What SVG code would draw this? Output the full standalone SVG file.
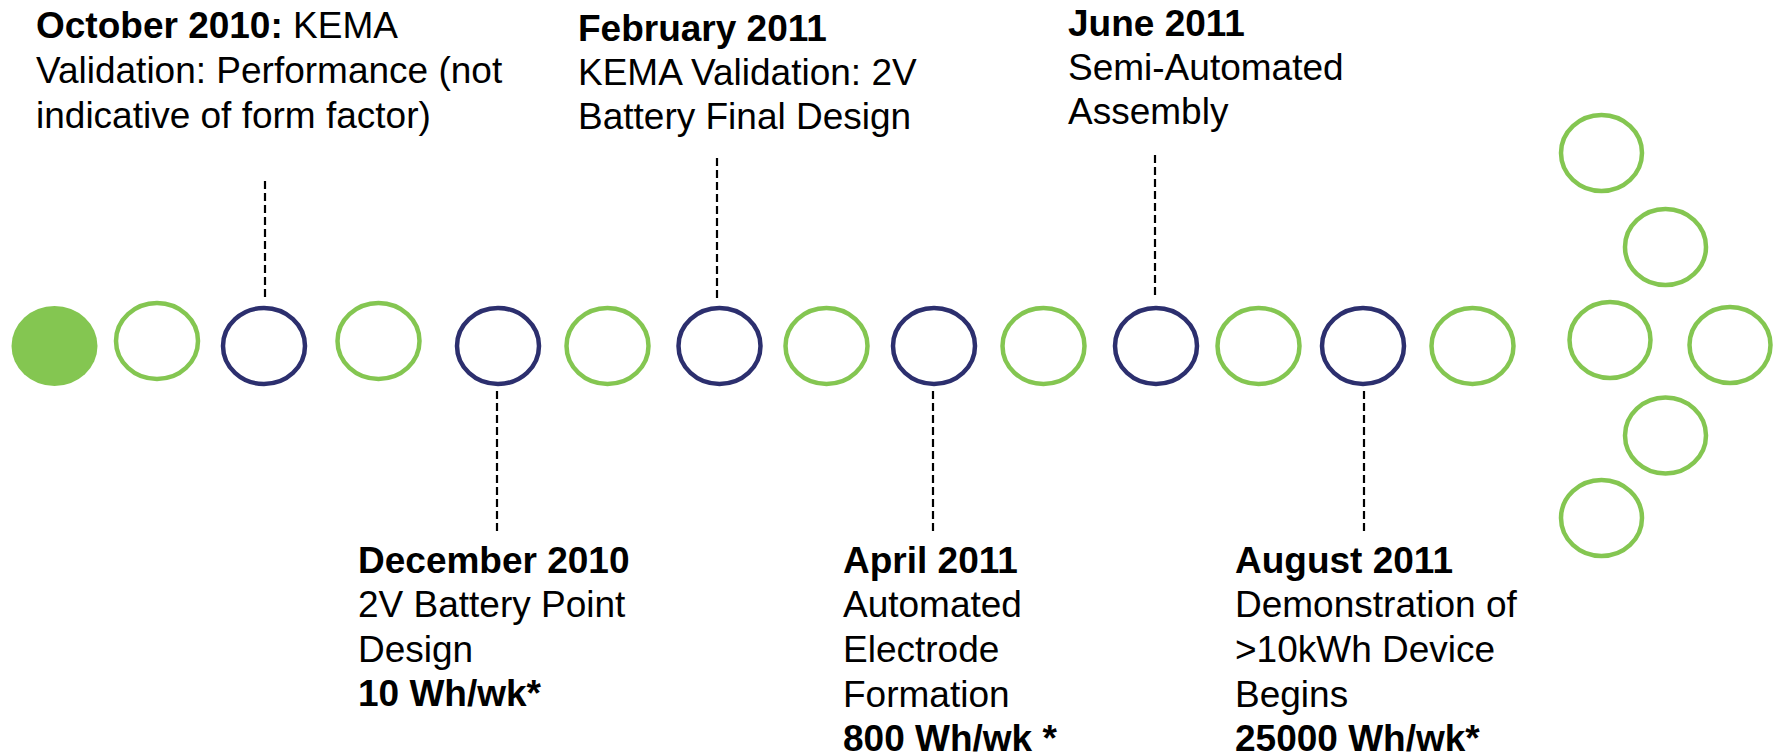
<svg xmlns="http://www.w3.org/2000/svg" width="1778" height="756" viewBox="0 0 1778 756">
<style>
  .g { fill: none; stroke: #84C651; stroke-width: 4.5; }
  .n { fill: none; stroke: #2C2F6E; stroke-width: 4.5; }
  .f { fill: #84C651; stroke: none; }
  .dash { stroke: #000; stroke-width: 2.2; stroke-dasharray: 8 4; fill: none; }
  text { font-family: "Liberation Sans", Arial, sans-serif; font-size: 37px; fill: #000; }
  .b { font-weight: bold; }
</style>
<rect width="1778" height="756" fill="#fff"/>
<g id="connectors">
  <line class="dash" x1="265" y1="181" x2="265" y2="298"/>
  <line class="dash" x1="717" y1="158" x2="717" y2="298"/>
  <line class="dash" x1="1155" y1="155" x2="1155" y2="298"/>
  <line class="dash" x1="497" y1="391" x2="497" y2="532"/>
  <line class="dash" x1="933" y1="391" x2="933" y2="532"/>
  <line class="dash" x1="1364" y1="391" x2="1364" y2="532"/>
</g>
<g id="c1"><ellipse class="f" cx="54.5" cy="346" rx="43" ry="40"/></g>
<g id="c2"><ellipse class="g" cx="157" cy="341" rx="41" ry="38"/></g>
<g id="c3"><ellipse class="n" cx="264" cy="346" rx="41" ry="38"/></g>
<g id="c4"><ellipse class="g" cx="378.5" cy="341" rx="41" ry="38"/></g>
<g id="c5"><ellipse class="n" cx="498" cy="346" rx="41" ry="38"/></g>
<g id="c6"><ellipse class="g" cx="607.5" cy="346" rx="41" ry="38"/></g>
<g id="c7"><ellipse class="n" cx="719.5" cy="346" rx="41" ry="38"/></g>
<g id="c8"><ellipse class="g" cx="826.5" cy="346" rx="41" ry="38"/></g>
<g id="c9"><ellipse class="n" cx="934" cy="346" rx="41" ry="38"/></g>
<g id="c10"><ellipse class="g" cx="1043.5" cy="346" rx="41" ry="38"/></g>
<g id="c11"><ellipse class="n" cx="1156" cy="346" rx="41" ry="38"/></g>
<g id="c12"><ellipse class="g" cx="1258.5" cy="346" rx="41" ry="38"/></g>
<g id="c13"><ellipse class="n" cx="1363" cy="346" rx="41" ry="38"/></g>
<g id="c14"><ellipse class="g" cx="1472.5" cy="346" rx="41" ry="38"/></g>
<g id="r1"><ellipse class="g" cx="1601.5" cy="153" rx="40.5" ry="38"/></g>
<g id="r2"><ellipse class="g" cx="1665.5" cy="247" rx="40.5" ry="38"/></g>
<g id="r3"><ellipse class="g" cx="1610" cy="340" rx="40.5" ry="38"/></g>
<g id="r4"><ellipse class="g" cx="1730" cy="345" rx="40.5" ry="38"/></g>
<g id="r5"><ellipse class="g" cx="1665.5" cy="435.5" rx="40.5" ry="38"/></g>
<g id="r6"><ellipse class="g" cx="1601.5" cy="518" rx="40.5" ry="38"/></g>
<g id="label-oct2010">
  <text x="36" y="38"><tspan class="b">October 2010:</tspan> KEMA</text>
  <text x="36" y="83">Validation: Performance (not</text>
  <text x="36" y="128">indicative of form factor)</text>
</g>
<g id="label-feb2011">
  <text x="578" y="41" class="b">February 2011</text>
  <text x="578" y="85">KEMA Validation: 2V</text>
  <text x="578" y="129">Battery Final Design</text>
</g>
<g id="label-jun2011">
  <text x="1068" y="36" class="b">June 2011</text>
  <text x="1068" y="80">Semi-Automated</text>
  <text x="1068" y="124">Assembly</text>
</g>
<g id="label-dec2010">
  <text x="358" y="573" class="b">December 2010</text>
  <text x="358" y="617">2V Battery Point</text>
  <text x="358" y="662">Design</text>
  <text x="358" y="706" class="b">10 Wh/wk*</text>
</g>
<g id="label-apr2011">
  <text x="843" y="573" class="b">April 2011</text>
  <text x="843" y="617">Automated</text>
  <text x="843" y="662">Electrode</text>
  <text x="843" y="707">Formation</text>
  <text x="843" y="751" class="b">800 Wh/wk *</text>
</g>
<g id="label-aug2011">
  <text x="1235" y="573" class="b">August 2011</text>
  <text x="1235" y="617">Demonstration of</text>
  <text x="1235" y="662">&gt;10kWh Device</text>
  <text x="1235" y="707">Begins</text>
  <text x="1235" y="751" class="b">25000 Wh/wk*</text>
</g>
</svg>
